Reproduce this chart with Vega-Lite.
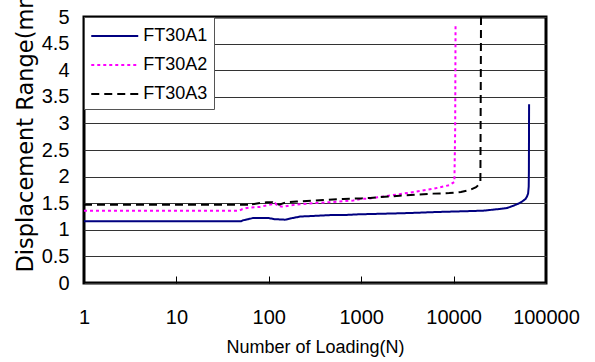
{
  "$schema": "https://vega.github.io/schema/vega-lite/v6.json",
  "width": 462,
  "height": 266,
  "autosize": {"type": "none"},
  "padding": {"left": 84, "top": 17, "right": 49, "bottom": 79},
  "background": "white",
  "config": {
    "view": {"stroke": "#000", "strokeWidth": 3},
    "legend": {
      "orient": "none", "legendX": 0, "legendY": 0,
      "fillColor": "#fff", "strokeColor": "#555", "padding": 6,
      "symbolType": "M-2,0H2", "symbolSize": 552, "symbolStrokeWidth": 2, "symbolOffset": 11.75,
      "labelFont": "Liberation Sans", "labelFontSize": 18, "labelColor": "#000",
      "labelOffset": 15.5, "rowPadding": 7
    }
  },
  "data": {
    "values": [
      {"N": 1, "D": 1.16, "S": "FT30A1"},
      {"N": 50, "D": 1.16, "S": "FT30A1"},
      {"N": 53, "D": 1.18, "S": "FT30A1"},
      {"N": 60, "D": 1.2, "S": "FT30A1"},
      {"N": 67, "D": 1.22, "S": "FT30A1"},
      {"N": 100, "D": 1.22, "S": "FT30A1"},
      {"N": 115, "D": 1.2, "S": "FT30A1"},
      {"N": 150, "D": 1.19, "S": "FT30A1"},
      {"N": 180, "D": 1.22, "S": "FT30A1"},
      {"N": 220, "D": 1.25, "S": "FT30A1"},
      {"N": 300, "D": 1.26, "S": "FT30A1"},
      {"N": 390, "D": 1.27, "S": "FT30A1"},
      {"N": 500, "D": 1.28, "S": "FT30A1"},
      {"N": 700, "D": 1.28, "S": "FT30A1"},
      {"N": 920, "D": 1.29, "S": "FT30A1"},
      {"N": 1500, "D": 1.3, "S": "FT30A1"},
      {"N": 2600, "D": 1.31, "S": "FT30A1"},
      {"N": 4000, "D": 1.32, "S": "FT30A1"},
      {"N": 5500, "D": 1.33, "S": "FT30A1"},
      {"N": 8500, "D": 1.34, "S": "FT30A1"},
      {"N": 14000, "D": 1.35, "S": "FT30A1"},
      {"N": 21000, "D": 1.36, "S": "FT30A1"},
      {"N": 31000, "D": 1.39, "S": "FT30A1"},
      {"N": 38000, "D": 1.41, "S": "FT30A1"},
      {"N": 44000, "D": 1.45, "S": "FT30A1"},
      {"N": 50000, "D": 1.49, "S": "FT30A1"},
      {"N": 55000, "D": 1.53, "S": "FT30A1"},
      {"N": 60000, "D": 1.58, "S": "FT30A1"},
      {"N": 62000, "D": 1.62, "S": "FT30A1"},
      {"N": 64000, "D": 1.68, "S": "FT30A1"},
      {"N": 65000, "D": 1.81, "S": "FT30A1"},
      {"N": 65300, "D": 2.1, "S": "FT30A1"},
      {"N": 65600, "D": 3.36, "S": "FT30A1"},
      {"N": 1, "D": 1.36, "S": "FT30A2"},
      {"N": 48, "D": 1.36, "S": "FT30A2"},
      {"N": 52, "D": 1.39, "S": "FT30A2"},
      {"N": 58, "D": 1.41, "S": "FT30A2"},
      {"N": 63, "D": 1.42, "S": "FT30A2"},
      {"N": 80, "D": 1.43, "S": "FT30A2"},
      {"N": 95, "D": 1.46, "S": "FT30A2"},
      {"N": 110, "D": 1.48, "S": "FT30A2"},
      {"N": 117, "D": 1.5, "S": "FT30A2"},
      {"N": 125, "D": 1.45, "S": "FT30A2"},
      {"N": 143, "D": 1.43, "S": "FT30A2"},
      {"N": 170, "D": 1.46, "S": "FT30A2"},
      {"N": 220, "D": 1.48, "S": "FT30A2"},
      {"N": 300, "D": 1.5, "S": "FT30A2"},
      {"N": 460, "D": 1.52, "S": "FT30A2"},
      {"N": 820, "D": 1.55, "S": "FT30A2"},
      {"N": 1000, "D": 1.58, "S": "FT30A2"},
      {"N": 1250, "D": 1.59, "S": "FT30A2"},
      {"N": 1500, "D": 1.61, "S": "FT30A2"},
      {"N": 2600, "D": 1.67, "S": "FT30A2"},
      {"N": 4000, "D": 1.72, "S": "FT30A2"},
      {"N": 6000, "D": 1.77, "S": "FT30A2"},
      {"N": 9000, "D": 1.84, "S": "FT30A2"},
      {"N": 10200, "D": 1.9, "S": "FT30A2"},
      {"N": 10400, "D": 2.9, "S": "FT30A2"},
      {"N": 10500, "D": 4.88, "S": "FT30A2"},
      {"N": 1, "D": 1.47, "S": "FT30A3"},
      {"N": 60, "D": 1.47, "S": "FT30A3"},
      {"N": 63, "D": 1.5, "S": "FT30A3"},
      {"N": 65, "D": 1.48, "S": "FT30A3"},
      {"N": 95, "D": 1.52, "S": "FT30A3"},
      {"N": 110, "D": 1.52, "S": "FT30A3"},
      {"N": 130, "D": 1.47, "S": "FT30A3"},
      {"N": 155, "D": 1.52, "S": "FT30A3"},
      {"N": 200, "D": 1.53, "S": "FT30A3"},
      {"N": 390, "D": 1.56, "S": "FT30A3"},
      {"N": 640, "D": 1.58, "S": "FT30A3"},
      {"N": 1000, "D": 1.59, "S": "FT30A3"},
      {"N": 1250, "D": 1.6, "S": "FT30A3"},
      {"N": 2600, "D": 1.64, "S": "FT30A3"},
      {"N": 6000, "D": 1.68, "S": "FT30A3"},
      {"N": 9000, "D": 1.69, "S": "FT30A3"},
      {"N": 12000, "D": 1.71, "S": "FT30A3"},
      {"N": 15000, "D": 1.75, "S": "FT30A3"},
      {"N": 17500, "D": 1.8, "S": "FT30A3"},
      {"N": 18500, "D": 1.84, "S": "FT30A3"},
      {"N": 19500, "D": 1.9, "S": "FT30A3"},
      {"N": 19800, "D": 5, "S": "FT30A3"}
    ]
  },
  "mark": {"type": "line", "strokeWidth": 2, "clip": true},
  "encoding": {
    "x": {
      "field": "N", "type": "quantitative",
      "scale": {"type": "log", "domain": [1, 100000]},
      "axis": {
        "values": [1, 10, 100, 1000, 10000, 100000], "format": "d",
        "grid": false, "domain": false, "tickSize": -7, "tickColor": "#000", "tickWidth": 1,
        "labelPadding": 31, "labelFontSize": 20, "labelFont": "Liberation Sans",
        "labelColor": "#000", "labelFlush": false, "labelOverlap": false,
        "title": "Number of Loading(N)", "titleFont": "Liberation Sans", "titleFontSize": 18,
        "titleFontWeight": "normal", "titleColor": "#000", "titleY": 64, "titleBaseline": "middle"
      }
    },
    "y": {
      "field": "D", "type": "quantitative",
      "scale": {"domain": [0, 5]},
      "axis": {
        "values": [0, 0.5, 1, 1.5, 2, 2.5, 3, 3.5, 4, 4.5, 5], "format": "~g",
        "grid": true, "gridColor": "#333", "gridWidth": 1, "domain": false, "ticks": false,
        "labelPadding": 15, "labelFontSize": 20, "labelFont": "Liberation Sans", "labelColor": "#000",
        "labelFlush": false, "labelOverlap": false,
        "title": "Displacement Range(mm)", "titleFont": "DejaVu Sans", "titleFontSize": 22.5,
        "titleFontWeight": "normal", "titleColor": "#000", "titleAngle": -90,
        "titleX": -59, "titleY": 255, "titleAlign": "left", "titleBaseline": "middle"
      }
    },
    "color": {
      "field": "S", "type": "nominal",
      "scale": {"domain": ["FT30A1", "FT30A2", "FT30A3"], "range": ["#000080", "#ff00ff", "#000000"]},
      "legend": {"title": null}
    },
    "strokeDash": {
      "field": "S", "type": "nominal",
      "scale": {"domain": ["FT30A1", "FT30A2", "FT30A3"], "range": [[1, 0], [3, 3], [8, 5]]},
      "legend": {"title": null}
    }
  }
}
